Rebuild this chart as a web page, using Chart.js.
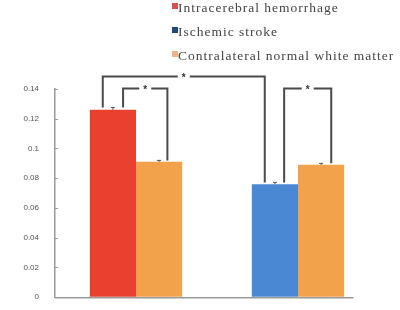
<!DOCTYPE html>
<html lang="en">
<head>
  <meta charset="UTF-8">
  <title>Lesion vs contralateral white matter</title>
  <script src="https://cdn.jsdelivr.net/npm/chart.js"></script>
  <style>
    body { margin: 0; background: #fff; }
    #wrap { position: relative; width: 400px; height: 310px; }
    #legend {
      position: absolute; left: 172px; top: -4px;
      font-family: "Liberation Serif", "DejaVu Serif", serif;
      font-size: 13.5px; letter-spacing: 1px; color: #444; line-height: 24px;
      white-space: nowrap;
    }
    #legend span.box {
      display: inline-block; width: 6px; height: 6px; margin-right: 0;
      vertical-align: 3px;
    }
  </style>
</head>
<body>
<div id="wrap">
  <canvas id="chart" width="400" height="310"></canvas>
  <div id="legend"></div>
</div>

<script>
  // data
  const groups = ['Intracerebral hemorrhage', 'Ischemic stroke'];
  const lesionValues = [0.126, 0.076];
  const lesionErr = [0.0015, 0.0012];
  const contraValues = [0.091, 0.089];
  const contraErr = [0.001, 0.001];
  const yTickLabels = ['0', '0.02', '0.04', '0.06', '0.08', '0.1', '0.12', '0.14'];
  const legendNames = ['Intracerebral hemorrhage', 'Ischemic stroke', 'Contralateral normal white matter'];
  const legendColors = ['#d9514a', '#1f4a78', '#f1b585'];

  const red = '#e8412f', blue = '#4b88d3', orange = '#f3a24c';

  // significance brackets: [dataset, index] -> [dataset, index], level in data units
  const brackets = [
    { from: [0, 0], to: [0, 1], level: 0.1487, offA: -0.22, offB: -0.22 },
    { from: [0, 0], to: [1, 0], level: 0.1405, offA: 0.22, offB: 0.18 },
    { from: [0, 1], to: [1, 1], level: 0.1405, offA: 0.2, offB: 0.22 }
  ];

  // html legend
  document.getElementById('legend').innerHTML = legendNames.map((n, i) =>
    '<div><span class="box" style="background:' + legendColors[i] + '"></span>' + n + '</div>'
  ).join('');

  const errs = [lesionErr, contraErr];

  const extras = {
    id: 'extras',
    afterDatasetsDraw(chart) {
      const ctx = chart.ctx;
      const y = chart.scales.y;
      const area = chart.chartArea;
      ctx.save();

      // x baseline, stops a little past the last bar
      const last = chart.getDatasetMeta(1).data[1];
      ctx.strokeStyle = '#9a9a9a';
      ctx.lineWidth = 1.5;
      ctx.beginPath();
      ctx.moveTo(area.left, area.bottom + 0.5);
      ctx.lineTo(last.x + last.width / 2 + last.width * 0.2, area.bottom + 0.5);
      ctx.stroke();

      // small inward tick marks on the y axis
      ctx.lineWidth = 1;
      y.ticks.forEach((t, i) => {
        const py = Math.round(y.getPixelForTick(i)) + 0.5;
        ctx.beginPath();
        ctx.moveTo(area.left, py);
        ctx.lineTo(area.left + 3, py);
        ctx.stroke();
      });

      // error bars
      ctx.strokeStyle = '#555';
      [0, 1].forEach(d => {
        chart.getDatasetMeta(d).data.forEach((bar, i) => {
          const v = chart.data.datasets[d].data[i];
          const top = y.getPixelForValue(v + errs[d][i]);
          ctx.beginPath();
          ctx.moveTo(bar.x, bar.y);
          ctx.lineTo(bar.x, top);
          ctx.moveTo(bar.x - 2, top);
          ctx.lineTo(bar.x + 2, top);
          ctx.stroke();
        });
      });

      // brackets with stars
      ctx.strokeStyle = '#4a4a4a';
      ctx.lineWidth = 2;
      ctx.fillStyle = '#333';
      ctx.font = 'bold 10px "Liberation Sans", Arial, sans-serif';
      ctx.textAlign = 'center';
      ctx.textBaseline = 'middle';
      brackets.forEach(b => {
        const ba = chart.getDatasetMeta(b.from[0]).data[b.from[1]];
        const bb = chart.getDatasetMeta(b.to[0]).data[b.to[1]];
        const xa = ba.x + b.offA * ba.width;
        const xb = bb.x + b.offB * bb.width;
        const ya = y.getPixelForValue(chart.data.datasets[b.from[0]].data[b.from[1]] + errs[b.from[0]][b.from[1]]);
        const yb = y.getPixelForValue(chart.data.datasets[b.to[0]].data[b.to[1]] + errs[b.to[0]][b.to[1]]);
        const yt = Math.round(y.getPixelForValue(b.level)) + 0.5;
        const xm = (xa + xb) / 2;
        ctx.beginPath();
        ctx.moveTo(xa, ya);
        ctx.lineTo(xa, yt);
        ctx.lineTo(xm - 6, yt);
        ctx.moveTo(xm + 6, yt);
        ctx.lineTo(xb, yt);
        ctx.lineTo(xb, yb);
        ctx.stroke();
        ctx.fillText('*', xm, yt + 2);
      });
      ctx.restore();
    }
  };

  new Chart(document.getElementById('chart'), {
    type: 'bar',
    data: {
      labels: groups,
      datasets: [
        { label: 'Lesion', data: lesionValues, backgroundColor: [red, blue] },
        { label: 'Contralateral normal white matter', data: contraValues, backgroundColor: orange }
      ]
    },
    options: {
      responsive: false,
      animation: false,
      layout: { padding: { left: 0, right: 21, top: 89, bottom: 12 } },
      datasets: { bar: { categoryPercentage: 0.57, barPercentage: 1.0 } },
      plugins: { legend: { display: false }, tooltip: { enabled: false } },
      scales: {
        x: {
          afterFit(scale) { scale.height = 0; },
          grid: { display: false, drawTicks: false },
          border: { display: false },
          ticks: { display: false }
        },
        y: {
          min: 0,
          max: 0.14,
          afterFit(scale) { scale.width = 55; },
          grid: { drawOnChartArea: false, tickLength: 8, tickColor: 'rgba(0,0,0,0)' },
          border: { color: '#9a9a9a', width: 1.5 },
          ticks: {
            stepSize: 0.02,
            padding: 8,
            color: '#555',
            font: { family: 'Liberation Sans, Arial, sans-serif', size: 8 },
            callback: (value, index) => yTickLabels[index]
          }
        }
      }
    },
    plugins: [extras]
  });
</script>
</body>
</html>
